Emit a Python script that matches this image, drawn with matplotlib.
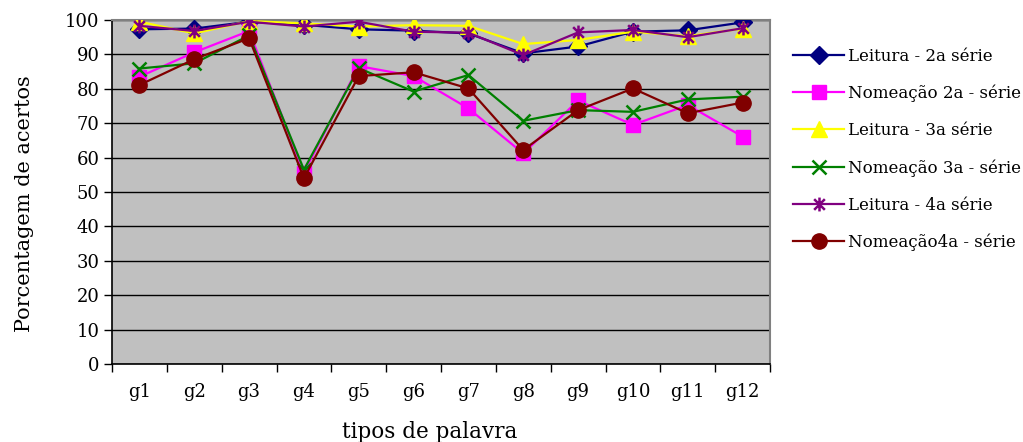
import matplotlib
matplotlib.use("Agg")
import matplotlib.pyplot as plt
from matplotlib.path import Path

categorias = ["g1", "g2", "g3", "g4", "g5", "g6", "g7", "g8", "g9", "g10", "g11", "g12"]

leitura_2a = [97.3, 97.5, 99.5, 98.6, 97.3, 96.9, 96.1, 90.3, 92.3, 96.6, 97.0, 99.3]
nomeacao_2a = [83.5, 90.6, 96.8, 55.6, 86.6, 83.7, 74.3, 61.2, 76.6, 69.5, 75.3, 66.1]
leitura_3a = [99.5, 96.1, 99.7, 99.0, 98.1, 98.5, 98.3, 93.0, 94.2, 96.6, 95.3, 97.5]
nomeacao_3a = [85.9, 87.4, 95.5, 56.5, 86.0, 79.2, 84.0, 70.7, 73.8, 73.3, 76.9, 77.7]
leitura_4a = [98.3, 96.8, 99.5, 98.1, 99.5, 96.6, 96.3, 89.8, 96.4, 97.1, 95.0, 97.6]
nomeacao_4a = [81.1, 88.6, 94.7, 54.0, 83.7, 84.8, 80.1, 62.2, 73.8, 80.1, 72.9, 76.0]

rotulos = ["Leitura - 2a série", "Nomeação 2a - série", "Leitura - 3a série",
           "Nomeação 3a - série", "Leitura - 4a série", "Nomeação4a - série"]

# asterisk marker: an X crossed by a vertical bar
asterisco = Path(
    [(-1, -1), (1, 1), (-1, 1), (1, -1), (0, -1.3), (0, 1.3)],
    [Path.MOVETO, Path.LINETO, Path.MOVETO, Path.LINETO, Path.MOVETO, Path.LINETO],
)

estilos = [
    dict(color="#000080", marker="D", ms=9, mfc="#000080", mec="#000080"),
    dict(color="#FF00FF", marker="s", ms=10, mfc="#FF00FF", mec="#FF00FF"),
    dict(color="#FFFF00", marker="^", ms=11, mfc="#FFFF00", mec="#FFFF00"),
    dict(color="#008000", marker="x", ms=10, mew=1.8, mec="#008000"),
    dict(color="#800080", marker=asterisco, ms=10, mew=1.8, mec="#800080"),
    dict(color="#800000", marker="o", ms=11, mfc="#800000", mec="#800000"),
]

series = [leitura_2a, nomeacao_2a, leitura_3a, nomeacao_3a, leitura_4a, nomeacao_4a]

plt.rcParams["font.family"] = ["DejaVu Serif"]

fig = plt.figure(figsize=(10.23, 4.42), dpi=100)
ax = fig.add_axes([112 / 1023, 78 / 442, 658 / 1023, 344 / 442])
ax.set_facecolor("#C0C0C0")

x = list(range(len(categorias)))
for valores, rot, est in zip(series, rotulos, estilos):
    ax.plot(x, valores, lw=1.6, label=rot, zorder=3, **est)

ax.set_xlim(-0.5, len(categorias) - 0.5)
ax.set_ylim(0, 100)
ax.set_yticks(range(0, 101, 10))
ax.yaxis.grid(True, color="black", lw=1)
ax.set_axisbelow(True)

ax.set_xticks(x)
ax.set_xticklabels(categorias)
ax.set_xticks([i - 0.5 for i in range(len(categorias) + 1)], minor=True)
ax.tick_params(axis="x", which="major", length=0, pad=14, labelsize=13)
ax.tick_params(axis="x", which="minor", length=6, width=1, direction="out")
ax.tick_params(axis="y", length=6, width=1, direction="out", pad=3, labelsize=13)

for lado in ("top", "right"):
    ax.spines[lado].set_color("#808080")
    ax.spines[lado].set_linewidth(1.5)
for lado in ("left", "bottom"):
    ax.spines[lado].set_color("black")
    ax.spines[lado].set_linewidth(1.2)

ax.set_ylabel("Porcentagem de acertos", fontsize=15)
ax.yaxis.set_label_coords(-0.118, 0.465)
ax.set_xlabel("tipos de palavra", fontsize=15.5)
ax.xaxis.set_label_coords(0.483, -0.166)

leg = fig.legend(loc="upper left", bbox_to_anchor=(786 / 1023, 1 - 41 / 442),
                 frameon=False, fontsize=12, handlelength=3.1,
                 handletextpad=0.25, labelspacing=1.2, borderaxespad=0)

fig.savefig("out.png", dpi=100, facecolor="white")
